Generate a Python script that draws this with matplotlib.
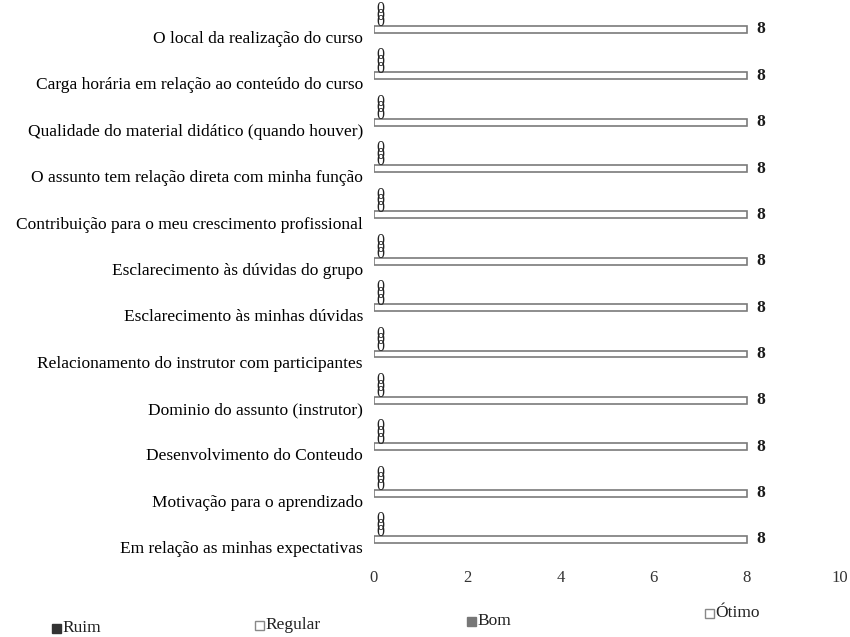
import matplotlib.pyplot as plt
from matplotlib.patches import Rectangle

plt.rcParams['font.family'] = ['Liberation Serif', 'DejaVu Serif']

categorias = [
    "O local da realização do curso",
    "Carga horária em relação ao conteúdo do curso",
    "Qualidade do material didático (quando houver)",
    "O assunto tem relação direta com minha função",
    "Contribuição para o meu crescimento profissional",
    "Esclarecimento às dúvidas do grupo",
    "Esclarecimento às minhas dúvidas",
    "Relacionamento do instrutor com participantes",
    "Dominio do assunto (instrutor)",
    "Desenvolvimento do Conteudo",
    "Motivação para o aprendizado",
    "Em relação as minhas expectativas",
]
ruim = [0] * 12
regular = [0] * 12
bom = [0] * 12
otimo = [8] * 12
series = ["Ruim", "Regular", "Bom", "Ótimo"]
xticks = [0, 2, 4, 6, 8, 10]

fig = plt.figure(figsize=(8.5, 6.37), dpi=100)
ax = fig.add_axes([0.44, 0.112, 0.548, 0.888])

# estilo de cada série: (valores, cor, borda, deslocamento vertical)
estilos = [
    (ruim, "#333333", "none", -0.52),
    (regular, "white", "none", -0.445),
    (bom, "#777777", "none", -0.37),
    (otimo, "white", "#7a7a7a", -0.165),
]
ys = list(range(len(categorias)))
for valores, cor, borda, desloc in estilos:
    pos = [y + desloc for y in ys]
    lw = 1.2 if borda != "none" else 0
    barras = ax.barh(pos, valores, height=0.15, color=cor, edgecolor=borda, linewidth=lw)
    if valores is otimo:
        ax.bar_label(barras, padding=7, fontsize=12.5, fontweight='bold', color="#1a1a1a")

# rótulos das barras de valor zero ficam empilhados (parecem um "8")
for i, y in enumerate(ys):
    txt = f"{ruim[i]}\n{regular[i]}\n{bom[i]}"
    ax.text(max(ruim[i], regular[i], bom[i]) + 0.06, y - 0.46, txt, fontsize=11.5,
            linespacing=0.22, va='center', ha='left', color="#222222")

ax.set_xlim(0, 10)
ax.set_ylim(11.4, -0.8)
ax.set_xticks(xticks)
ax.set_yticks(ys)
ax.set_yticklabels(categorias, fontsize=12.5)
ax.tick_params(axis='both', length=0)
ax.tick_params(axis='x', pad=3, labelsize=12, labelcolor="#333333")
ax.tick_params(axis='y', pad=8)
for s in ax.spines.values():
    s.set_visible(False)

# legenda manual (espalhada como no original)
leg_cores = ["#333333", "white", "#777777", "white"]
leg_bordas = ["#333333", "#888888", "#777777", "#888888"]
leg_x = [52, 255, 467, 705]
leg_y = [628, 625, 621, 613]
for nome, cor, borda, px, py in zip(series, leg_cores, leg_bordas, leg_x, leg_y):
    fx = px / 850
    fy = 1 - py / 637
    fig.add_artist(Rectangle((fx, fy - 0.008), 0.01, 0.014, transform=fig.transFigure,
                             facecolor=cor, edgecolor=borda, linewidth=1))
    fig.text(fx + 0.012, fy, nome, fontsize=12.5, va='center', ha='left', color="#222222")

fig.savefig("out.png", dpi=100)
